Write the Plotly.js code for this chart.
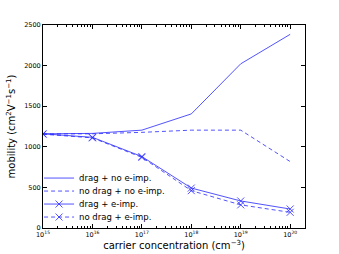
<!DOCTYPE html>
<html><head><meta charset="utf-8">
<script src="https://cdn.plot.ly/plotly-3.0.1.min.js"></script>
<style>html,body{margin:0;padding:0;background:#fff}#plot{width:339px;height:254px}</style>
</head><body><div id="plot"></div>
<script>
const concentration = [1e15, 1e16, 1e17, 1e18, 1e19, 1e20];
const dragNoEimp = [1160, 1165, 1205, 1405, 2022, 2385];
const noDragNoEimp = [1158, 1160, 1178, 1205, 1205, 818];
const dragEimp = [1160, 1117, 880, 492, 333, 234];
const noDragEimp = [1155, 1110, 870, 460, 285, 193];
const seriesNames = ['drag + no e-imp.', 'no drag + no e-imp.', 'drag + e-imp.', 'no drag + e-imp.'];
const xTickVals = [1e15, 1e16, 1e17, 1e18, 1e19, 1e20];
const xTickText = ['10<sup>15</sup>', '10<sup>16</sup>', '10<sup>17</sup>', '10<sup>18</sup>', '10<sup>19</sup>', '10<sup>20</sup>'];
const yTickVals = [0, 500, 1000, 1500, 2000, 2500];

const col = 'rgba(40,40,255,0.8)';
const font = 'DejaVu Sans, sans-serif';
const traces = [
  {x: concentration, y: dragNoEimp, name: seriesNames[0], legend: 'legend', mode: 'lines', line: {color: col, width: 1}},
  {x: concentration, y: noDragNoEimp, name: seriesNames[1], legend: 'legend2', mode: 'lines', line: {color: col, width: 1, dash: '4px,3px'}},
  {x: concentration, y: dragEimp, name: seriesNames[2], legend: 'legend3', mode: 'lines+markers', line: {color: col, width: 1},
   marker: {symbol: 'x-thin-open', size: 7, line: {color: col, width: 1}}},
  {x: concentration, y: noDragEimp, name: seriesNames[3], legend: 'legend4', mode: 'lines+markers', line: {color: col, width: 1, dash: '4px,3px'},
   marker: {symbol: 'x-thin-open', size: 7, line: {color: col, width: 1}}}
];
function leg(y) {
  return {x: -0.015, y: y, xanchor: 'left', yanchor: 'middle', bgcolor: 'rgba(0,0,0,0)',
          font: {family: font, size: 8.5, color: '#000'}, itemwidth: 30};
}
const layout = {
  width: 339, height: 254,
  margin: {l: 43, r: 34, t: 25, b: 26, autoexpand: false},
  paper_bgcolor: '#fff', plot_bgcolor: '#fff',
  font: {family: font, color: '#000', size: 7},
  showlegend: true,
  legend: leg(0.246), legend2: leg(0.182), legend3: leg(0.118), legend4: leg(0.054),
  xaxis: {
    type: 'log', range: [15, 20.3],
    tickvals: xTickVals, ticktext: xTickText,
    ticks: 'inside', ticklen: 4, tickcolor: '#000',
    minor: {ticks: 'inside', ticklen: 2, tickcolor: '#000', dtick: 'D1'},
    showline: true, linecolor: '#000', linewidth: 1, mirror: 'ticks',
    showgrid: false, zeroline: false,
    tickfont: {family: font, size: 6.5, color: '#000'},
    title: {text: 'carrier concentration (cm<sup>−3</sup>)', font: {family: font, size: 10, color: '#000'}, standoff: 4}
  },
  yaxis: {
    range: [0, 2500],
    tickvals: yTickVals,
    ticks: 'inside', ticklen: 4, tickcolor: '#000',
    showline: true, linecolor: '#000', linewidth: 1, mirror: 'ticks',
    showgrid: false, zeroline: false,
    tickfont: {family: font, size: 6.5, color: '#000'},
    title: {text: 'mobility (cm<sup>2</sup>V<sup>−1</sup>s<sup>−1</sup>)', font: {family: font, size: 10, color: '#000'}, standoff: 6}
  }
};
Plotly.newPlot('plot', traces, layout, {staticPlot: true, displayModeBar: false});
</script></body></html>
